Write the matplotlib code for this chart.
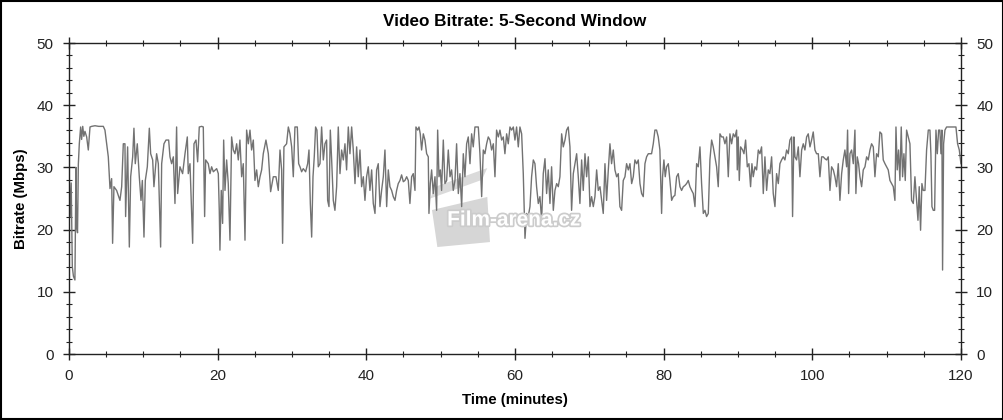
#Librerías a utilizar
import matplotlib
matplotlib.use("Agg")
import matplotlib.pyplot as plt
import matplotlib.patheffects as pe
from matplotlib.patches import Rectangle, Polygon
from matplotlib.ticker import MultipleLocator

#Tiempo en minutos (lecturas de la gráfica)
tiempo = [
    0.0, 0.15, 0.3, 0.45, 0.6, 0.8, 0.94, 1.03, 1.15, 1.26, 1.39, 1.57, 1.70, 1.85, 2.0, 2.15, 2.38, 2.60, 2.83, 3.05,
    3.5, 4.0, 4.62, 4.84, 5.07, 5.29, 5.52, 5.74, 5.87, 6.05, 6.41, 6.86, 7.09, 7.31, 7.53, 7.62, 7.89, 8.12, 8.30, 8.57,
    8.74, 8.92, 9.19, 9.46, 9.69, 9.87, 10.09, 10.27, 10.54, 10.81, 10.99, 11.26, 11.43, 11.79, 12.02, 12.33, 12.47, 12.78, 13.05, 13.41,
    13.59, 13.81, 14.04, 14.26, 14.48, 14.62, 14.93, 15.29, 15.61, 15.92, 16.05, 16.28, 16.64, 16.82, 17.09, 17.31, 17.53, 17.85, 18.07, 18.25,
    18.39, 18.74, 18.97, 19.19, 19.42, 19.87, 20.09, 20.22, 20.31, 20.49, 20.67, 20.81, 20.99, 21.21, 21.43, 21.66, 21.88, 22.11, 22.33, 22.56,
    22.78, 23.00, 23.23, 23.45, 23.68, 23.90, 24.13, 24.35, 24.57, 24.80, 25.02, 25.25, 25.47, 25.70, 25.92, 26.14, 26.50, 26.82, 27.13, 27.49,
    27.85, 28.16, 28.39, 28.61, 28.74, 28.92, 29.28, 29.51, 29.73, 29.96, 30.18, 30.40, 30.72, 30.90, 31.08,
    31.30, 31.52, 31.84, 32.11, 32.29, 32.47, 32.65, 32.83, 33.00, 33.18, 33.36, 33.54, 33.77, 33.99, 34.22, 34.44, 34.66, 34.80, 34.98, 35.16,
    35.34, 35.56, 35.78, 36.01, 36.23, 36.46, 36.68, 36.91, 37.13, 37.35, 37.58, 37.80, 38.03, 38.25, 38.48, 38.70, 38.92, 39.15, 39.37, 39.60,
    39.82, 40.04, 40.27, 40.49, 40.72, 40.94, 41.17, 41.39, 41.61, 41.84, 42.06, 42.29, 42.51, 42.74, 42.96, 43.18, 43.41, 43.63, 43.86, 44.08,
    44.30, 44.53, 44.75, 44.98, 45.20, 45.43, 45.65, 45.87, 46.10, 46.32, 46.55, 46.68, 46.91, 47.09, 47.26, 47.44, 47.67, 47.89, 48.12, 48.34,
    48.43, 48.61, 48.79, 49.01, 49.24, 49.46, 49.60, 49.78, 49.96, 50.13, 50.36, 50.58, 50.81, 51.03, 51.26, 51.48, 51.70, 51.93, 52.15, 52.38,
    52.60, 52.83, 53.05, 53.27, 53.50, 53.72, 53.95, 54.17, 54.39, 54.62, 55.07, 55.29, 55.52, 55.74, 55.96, 56.19, 56.41, 56.64, 56.86, 57.09,
    57.31, 57.53, 57.76, 57.98, 58.21, 58.43, 58.65, 58.88, 59.10, 59.33, 59.55, 59.78, 60.00, 60.22, 60.45, 60.67, 60.90,
    61.12, 61.35, 61.57, 61.79, 62.02, 62.24, 62.47, 62.69, 62.91, 63.14, 63.36, 63.59, 63.81, 64.04, 64.26, 64.48, 64.71, 64.93, 65.16, 65.38,
    65.61, 65.83, 66.05, 66.28, 66.50, 66.73, 66.95, 67.17, 67.40, 67.62, 67.85, 68.07, 68.30, 68.52, 68.74, 68.97, 69.19, 69.42, 69.64, 69.87,
    70.09, 70.31, 70.54, 70.76, 70.99, 71.21, 71.44, 71.66, 71.88, 72.11, 72.33, 72.56, 72.78, 73.00, 73.23, 73.45, 73.68, 73.90, 74.12, 74.35,
    74.57, 74.80, 75.02, 75.25, 75.47, 75.70, 75.92, 76.14, 76.37, 76.59, 76.82, 77.04, 77.26, 77.49, 77.71, 77.94, 78.16, 78.38, 78.61, 78.83,
    79.05, 79.28, 79.50, 79.73, 79.86, 80.04, 80.22, 80.40, 80.63, 80.85, 81.08, 81.30, 81.52, 81.75, 81.97, 82.20, 82.42, 82.65, 82.87, 83.09,
    83.32, 83.54, 83.77, 83.99, 84.22, 84.44, 84.66, 84.89, 85.11, 85.34, 85.56, 85.78, 86.01, 86.23, 86.46, 86.68, 86.91, 87.13, 87.35, 87.58,
    87.80, 88.03, 88.25, 88.48, 88.70,
    88.92, 89.15, 89.37, 89.60, 89.82, 89.91, 90.04, 90.18, 90.36, 90.63, 90.81, 91.03, 91.26, 91.48, 91.70, 91.88, 92.06, 92.29, 92.51, 92.74,
    92.96, 93.18, 93.41, 93.63, 93.86, 94.08, 94.30, 94.53, 94.75, 94.98, 95.20, 95.43, 95.65, 95.87, 96.10, 96.32, 96.55, 96.77, 96.99, 97.22,
    97.35, 97.53, 97.67, 97.89, 98.12, 98.34, 98.57, 98.79, 99.01, 99.24, 99.46, 99.69, 99.91, 100.13, 100.36, 100.58, 100.81, 101.03, 101.26, 101.48,
    101.70, 101.93, 102.15, 102.38, 102.60, 102.83, 103.05, 103.27, 103.50, 103.72, 103.95, 104.17, 104.39, 104.62, 104.75, 104.89, 105.07, 105.29, 105.52, 105.74,
    105.87, 106.05, 106.23, 106.41, 106.64, 106.86, 107.09, 107.31, 107.53, 107.76, 107.98, 108.21, 108.43, 108.65, 108.88, 109.10, 109.33, 109.55, 109.78, 110.00,
    110.22, 110.45, 110.67, 110.90, 111.12, 111.26, 111.43, 111.61, 111.79, 111.97, 112.15, 112.33, 112.51, 112.69, 112.91, 113.14, 113.36, 113.59, 113.81, 114.04,
    114.22, 114.39, 114.57, 114.75, 114.93, 115.16, 115.38, 115.61, 115.83, 115.96, 116.10, 116.28, 116.46, 116.64, 116.82, 117.00, 117.17, 117.31, 117.44, 117.53,
    117.67, 117.85, 118.07, 118.52, 118.97, 119.33, 119.55, 119.78, 120.0,
]

#Bitrate en Mbps (lecturas de la gráfica)
bitrate = [
    31.0, 22.0, 27.5, 14.0, 12.5, 11.9, 30.0, 20.4, 19.5, 30.5, 33.8, 36.5, 34.5, 36.6, 35.0, 35.8, 34.9, 32.8, 36.5, 36.6,
    36.7, 36.6, 36.6, 36.0, 33.8, 31.7, 26.6, 28.2, 17.8, 26.9, 26.3, 24.7, 26.9, 33.8, 33.8, 22.1, 33.3, 17.2, 28.5, 31.7,
    36.3, 30.6, 33.8, 28.5, 24.7, 27.9, 18.8, 27.9, 30.1, 36.3, 32.2, 31.2, 26.9, 32.2, 30.6, 17.2, 30.6, 33.8, 34.4, 34.4,
    31.7, 30.6, 31.7, 24.2, 36.5, 25.8, 30.1, 29.0, 32.2, 34.9, 29.0, 30.6, 17.8, 33.8, 34.4, 30.9, 36.5, 36.6, 36.5, 22.1,
    31.2, 30.6, 29.0, 30.1, 29.3, 29.8, 29.0, 23.1, 16.7, 26.3, 21.0, 34.4, 26.3, 31.2, 27.4, 18.3, 34.9, 32.8, 32.2, 33.8,
    31.2, 34.4, 28.5, 30.6, 18.3, 36.0, 33.8, 36.0, 32.8, 34.4, 27.9, 29.6, 26.9, 28.5, 29.6, 32.2, 34.4, 32.2, 26.1, 28.5,
    28.5, 26.3, 32.8, 29.6, 17.8, 33.3, 33.8, 36.5, 35.4, 33.3, 28.5, 36.5, 36.5, 30.6, 30.1,
    29.3, 29.8, 29.3, 30.6, 32.8, 24.2, 18.8, 28.5, 31.7, 36.5, 36.0, 30.1, 30.6, 36.5, 31.2, 33.8, 34.4, 24.7, 23.7, 36.0,
    31.2, 24.7, 23.1, 26.9, 36.5, 29.0, 32.8, 31.2, 33.8, 29.6, 36.5, 32.2, 36.5, 32.8, 27.4, 33.3, 28.5, 32.8, 26.9, 28.5,
    24.7, 28.5, 30.1, 26.3, 29.6, 24.2, 22.6, 29.6, 30.6, 23.7, 26.3, 28.5, 32.8, 23.7, 29.6, 26.9, 26.3, 25.3, 24.7, 26.3,
    27.4, 27.9, 28.8, 27.7, 27.9, 28.5, 27.9, 24.2, 28.5, 29.0, 26.3, 36.5, 36.0, 36.5, 35.4, 32.8, 35.4, 34.4, 32.2, 31.7,
    22.6, 27.4, 29.6, 25.8, 28.5, 23.1, 36.0, 28.5, 29.6, 26.3, 34.4, 27.4, 27.9, 32.8, 28.5, 29.6, 26.3, 27.9, 33.8, 25.8,
    29.0, 23.7, 32.2, 28.5, 33.8, 34.9, 30.6, 35.4, 33.3, 36.5, 36.5, 32.2, 25.3, 32.8, 32.2, 33.8, 34.9, 34.4, 32.8, 33.8,
    28.5, 36.0, 34.9, 36.0, 34.4, 34.9, 32.2, 35.4, 33.8, 36.5, 36.0, 36.5, 34.4, 36.5, 33.3, 36.5, 35.4,
    29.0, 18.6, 22.6, 22.1, 23.7, 28.5, 31.2, 30.6, 26.9, 24.2, 25.3, 21.5, 29.0, 31.4, 25.8, 29.6, 24.2, 30.1, 23.1, 26.3,
    27.4, 26.9, 28.5, 35.4, 33.3, 34.4, 36.0, 36.5, 33.3, 23.1, 29.0, 30.6, 32.2, 28.5, 24.2, 31.2, 26.3, 32.2, 28.5, 31.7,
    23.7, 25.3, 23.7, 25.3, 29.6, 26.3, 26.9, 24.7, 22.6, 30.6, 24.7, 29.6, 33.8, 30.6, 32.8, 29.6, 28.5, 29.0, 23.7, 23.1,
    27.9, 28.5, 30.6, 29.6, 30.6, 27.4, 28.5, 31.2, 30.6, 31.2, 27.4, 25.8, 25.3, 30.6, 31.7, 32.2, 32.2, 32.2, 33.8, 36.0,
    36.0, 34.9, 32.8, 22.6, 28.5, 31.2, 28.5, 30.1, 30.6, 27.9, 24.7, 25.3, 25.5, 28.5, 29.0, 26.9, 26.3, 26.9, 27.1, 27.4,
    27.9, 26.9, 26.3, 25.8, 23.7, 30.6, 30.1, 33.3, 27.4, 22.6, 23.1, 22.1, 22.6, 31.2, 34.4, 33.3, 31.7, 30.1, 26.9, 35.4,
    34.9, 34.9, 33.8, 34.9, 28.5,
    35.4, 33.8, 35.4, 34.9, 36.0, 29.6, 34.9, 27.9, 33.3, 32.8, 32.2, 34.4, 30.1, 30.6, 26.9, 30.6, 28.5, 30.1, 29.6, 32.8,
    32.2, 33.3, 25.8, 31.7, 26.3, 29.6, 29.0, 31.7, 25.8, 23.7, 29.0, 27.4, 30.6, 31.2, 31.7, 31.2, 32.8, 32.2, 34.4, 34.9,
    22.1, 34.9, 31.7, 31.2, 33.3, 28.5, 32.8, 33.8, 32.8, 34.9, 35.4, 33.3, 34.4, 35.7, 32.8, 32.2, 32.2, 28.5, 31.7, 31.7,
    31.4, 31.2, 31.7, 26.3, 30.1, 29.6, 28.5, 26.9, 30.6, 24.7, 29.0, 31.2, 32.8, 30.1, 36.0, 25.8, 32.2, 32.8, 30.6, 36.0,
    25.8, 31.7, 30.6, 28.5, 26.9, 29.6, 30.1, 31.7, 31.2, 32.8, 33.8, 33.3, 28.5, 32.2, 31.7, 35.7, 35.4, 31.2, 30.6, 30.1,
    29.6, 27.9, 27.4, 26.9, 24.7, 36.5, 29.6, 32.8, 27.9, 36.5, 28.5, 32.2, 27.9, 36.0, 34.9, 33.8, 24.7, 24.2, 28.5, 24.7,
    21.5, 26.9, 19.9, 27.4, 26.3, 26.3, 32.8, 36.0, 36.0, 32.2, 23.7, 23.1, 23.1, 36.0, 32.2, 36.0, 36.0, 32.2, 36.0, 13.5,
    33.8, 36.0, 36.5, 36.5, 36.5, 36.5, 33.8, 32.8, 30.6,
]

#Textos de la gráfica
titulo = "Video Bitrate: 5-Second Window"
etiqueta_x = "Time (minutes)"
etiqueta_y = "Bitrate (Mbps)"
marca_agua = "Film-arena.cz"

plt.rcParams['font.family'] = ['Liberation Sans', 'DejaVu Sans']

#Generar figura con los atributos correspondientes
fig = plt.figure(figsize=(10.04, 4.2), dpi=100)
ax = fig.add_axes([0.0687, 0.1571, 0.8884, 0.7405])

#Marca de agua: claqueta gris
ax.add_patch(Polygon([[0.407, 0.463], [0.413, 0.344], [0.472, 0.360], [0.469, 0.505]],
                     closed=True, transform=ax.transAxes, facecolor="#d6d6d6",
                     edgecolor="none", zorder=1))
ax.add_patch(Polygon([[0.405, 0.500], [0.463, 0.560], [0.469, 0.598], [0.410, 0.537]],
                     closed=True, transform=ax.transAxes, facecolor="#dadada",
                     edgecolor="none", zorder=1))

#Línea del bitrate
ax.plot(tiempo, bitrate, color="#727272", linewidth=1.0, zorder=2)

#Marca de agua: texto encima de la línea
ax.text(0.424, 0.431, marca_agua, transform=ax.transAxes, fontsize=15,
        fontweight="bold", color="white", ha="left", va="center", zorder=3,
        path_effects=[pe.withStroke(linewidth=2.5, foreground="#cccccc")])

#Ejes
ax.set_xlim(0, 120)
ax.set_ylim(0, 50)
ax.xaxis.set_major_locator(MultipleLocator(20))
ax.xaxis.set_minor_locator(MultipleLocator(5))
ax.yaxis.set_major_locator(MultipleLocator(10))
ax.yaxis.set_minor_locator(MultipleLocator(2))
ax.tick_params(which="major", direction="inout", length=8, width=1, colors="#222222",
               labelsize=11, top=True, right=True, labelright=True, pad=7)
ax.tick_params(which="minor", direction="inout", length=4, width=0.8, colors="#222222",
               top=True, right=True)
for lado in ax.spines.values():
    lado.set_color("#222222")
    lado.set_linewidth(1)

#Títulos
ax.set_title(titulo, fontsize=12.3, fontweight="bold", pad=12)
ax.set_xlabel(etiqueta_x, fontsize=10.8, fontweight="bold", labelpad=7)
ax.set_ylabel(etiqueta_y, fontsize=10.8, fontweight="bold", labelpad=6)

#Borde de la figura
fig.patches.append(Rectangle((0.001, 0.002), 0.998, 0.996, transform=fig.transFigure,
                             fill=False, edgecolor="black", linewidth=1.5))

fig.savefig("out.png", dpi=100)
